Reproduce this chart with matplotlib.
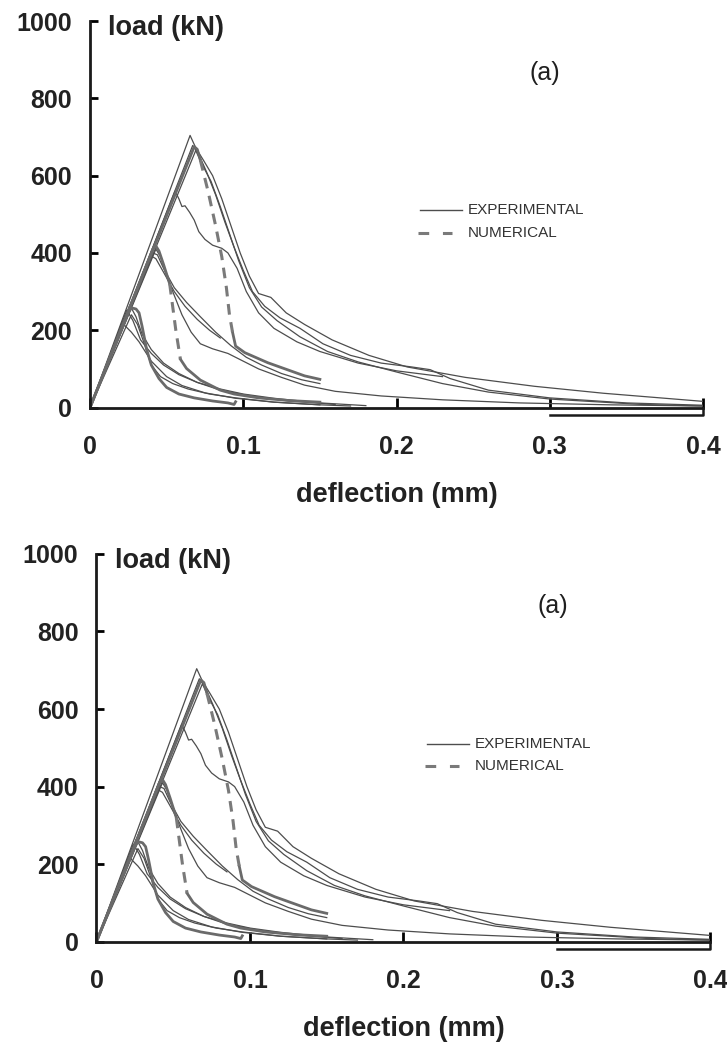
import matplotlib.pyplot as plt

plt.rcParams['font.family'] = ['Liberation Sans', 'DejaVu Sans']

# experimental curves: deflection (mm) / load (kN)
exp_h1_d = [0, 0.0653, 0.069, 0.074, 0.080, 0.086, 0.092, 0.098, 0.104, 0.110, 0.118, 0.128,
            0.140, 0.158, 0.182, 0.207, 0.245, 0.290, 0.335, 0.400]
exp_h1_p = [0, 704, 672, 640, 600, 540, 470, 400, 340, 295, 285, 245, 215, 175, 135, 105, 78,
            55, 37, 16]
exp_h2_d = [0, 0.067, 0.071, 0.076, 0.082, 0.088, 0.094, 0.100, 0.106, 0.114, 0.124, 0.137,
            0.152, 0.170, 0.190, 0.210, 0.222, 0.235, 0.260, 0.300, 0.350, 0.400]
exp_h2_p = [0, 678, 655, 610, 550, 480, 415, 355, 300, 262, 232, 205, 165, 135, 115, 105, 98,
            75, 45, 25, 12, 6]
exp_h3_d = [0, 0.069, 0.073, 0.079, 0.085, 0.091, 0.097, 0.104, 0.112, 0.122, 0.137, 0.155,
            0.175, 0.200, 0.230, 0.260, 0.300, 0.360, 0.400]
exp_h3_p = [0, 665, 630, 585, 520, 450, 380, 310, 260, 225, 183, 145, 118, 92, 62, 40, 22, 8, 4]
exp_h4_d = [0, 0.0555, 0.058, 0.060, 0.062, 0.065, 0.068, 0.071, 0.075, 0.080, 0.086, 0.090,
            0.096, 0.102, 0.110, 0.120, 0.135, 0.150, 0.175, 0.200, 0.230]
exp_h4_p = [0, 560, 540, 520, 522, 505, 485, 455, 435, 420, 412, 400, 360, 300, 245, 205, 170,
            145, 115, 95, 80]
exp_m1_d = [0, 0.040, 0.043, 0.048, 0.055, 0.062, 0.070, 0.078, 0.085]
exp_m1_p = [0, 392, 385, 350, 300, 262, 228, 200, 180]
exp_m2_d = [0, 0.043, 0.046, 0.050, 0.055, 0.060, 0.066, 0.072, 0.080, 0.090, 0.100, 0.110,
            0.125, 0.140, 0.160, 0.190, 0.230, 0.280, 0.340, 0.400]
exp_m2_p = [0, 410, 390, 340, 290, 240, 195, 165, 152, 140, 120, 100, 78, 58, 42, 30, 20, 12, 7, 4]
exp_m3_d = [0, 0.041, 0.044, 0.048, 0.055, 0.063, 0.072, 0.082, 0.092, 0.102, 0.112, 0.125,
            0.138, 0.150]
exp_m3_p = [0, 400, 395, 360, 310, 272, 235, 195, 160, 130, 110, 88, 72, 62]
exp_l1_d = [0, 0.022, 0.027, 0.032, 0.040, 0.050, 0.060, 0.075, 0.095, 0.120, 0.150, 0.170]
exp_l1_p = [0, 215, 195, 170, 120, 80, 57, 38, 24, 14, 7, 4]
exp_l2_d = [0, 0.024, 0.028, 0.033, 0.040, 0.048, 0.058, 0.070, 0.085, 0.100, 0.120, 0.150, 0.180]
exp_l2_p = [0, 252, 225, 175, 140, 110, 85, 65, 48, 35, 24, 12, 5]
exp_l3_d = [0, 0.026, 0.030, 0.034, 0.040, 0.048, 0.058, 0.070, 0.085, 0.105, 0.130, 0.160]
exp_l3_p = [0, 265, 235, 190, 150, 115, 88, 65, 45, 30, 17, 8]
exp_l4_d = [0, 0.027, 0.031, 0.035, 0.040, 0.046, 0.054, 0.064, 0.078, 0.095, 0.120, 0.150]
exp_l4_p = [0, 240, 215, 170, 110, 80, 62, 48, 35, 25, 14, 7]

# numerical curves: solid parts and the dashed softening drop
num_h_rise_d = [0, 0.068, 0.070, 0.072]
num_h_rise_p = [0, 675, 668, 640]
num_h_drop_d = [0.072, 0.077, 0.082, 0.086, 0.089, 0.091, 0.093]
num_h_drop_p = [640, 560, 470, 390, 310, 240, 195]
num_h_tail_d = [0.093, 0.095, 0.101, 0.116, 0.128, 0.140, 0.150]
num_h_tail_p = [195, 159, 142, 116, 99, 82, 73]
num_m_rise_d = [0, 0.041, 0.043, 0.045, 0.048, 0.052]
num_m_rise_p = [0, 410, 418, 405, 370, 320]
num_m_drop_d = [0.052, 0.054, 0.056, 0.058, 0.059]
num_m_drop_p = [320, 260, 200, 150, 125]
num_m_tail_d = [0.059, 0.063, 0.072, 0.085, 0.094, 0.110, 0.130, 0.150]
num_m_tail_p = [125, 101, 71, 45, 35, 25, 18, 14]
num_l_d = [0, 0.025, 0.027, 0.030, 0.032, 0.034, 0.037, 0.040, 0.045, 0.050, 0.058, 0.068,
           0.080, 0.090, 0.094, 0.095]
num_l_p = [0, 245, 258, 255, 245, 210, 150, 110, 75, 52, 35, 25, 17, 12, 8, 15]

exp_curves = [(exp_h1_d, exp_h1_p), (exp_h2_d, exp_h2_p), (exp_h3_d, exp_h3_p),
              (exp_h4_d, exp_h4_p), (exp_m1_d, exp_m1_p), (exp_m2_d, exp_m2_p),
              (exp_m3_d, exp_m3_p), (exp_l1_d, exp_l1_p), (exp_l2_d, exp_l2_p),
              (exp_l3_d, exp_l3_p), (exp_l4_d, exp_l4_p)]
num_solid = [(num_h_rise_d, num_h_rise_p), (num_h_tail_d, num_h_tail_p),
             (num_m_rise_d, num_m_rise_p), (num_m_tail_d, num_m_tail_p), (num_l_d, num_l_p)]
num_dashed = [(num_h_drop_d, num_h_drop_p), (num_m_drop_d, num_m_drop_p)]

x_ticks = [0, 0.1, 0.2, 0.3, 0.4]
x_labels = ['0', '0.1', '0.2', '0.3', '0.4']
y_ticks = [0, 200, 400, 600, 800, 1000]


def draw_panel(ax):
    for d, p in exp_curves:
        ax.plot(d, p, color='#4d4d4d', lw=0.9)
    for d, p in num_solid:
        ax.plot(d, p, color='#6a6a6a', lw=2.0)
    for d, p in num_dashed:
        ax.plot(d, p, color='#7a7a7a', lw=2.2, dashes=(3.5, 2.5))

    ax.set_xlim(0, 0.4)
    ax.set_ylim(0, 1000)
    for s in ['top', 'right']:
        ax.spines[s].set_visible(False)
    for s in ['left', 'bottom']:
        ax.spines[s].set_linewidth(2)
        ax.spines[s].set_color('#1a1a1a')

    ax.set_xticks(x_ticks)
    ax.set_xticklabels(x_labels)
    ax.set_yticks(y_ticks)
    ax.tick_params(axis='x', direction='in', length=7, width=2, pad=20, labelsize=18)
    ax.tick_params(axis='y', direction='in', length=6, width=2, pad=13, labelsize=18)
    for lab in ax.get_xticklabels() + ax.get_yticklabels():
        lab.set_fontweight('bold')
        lab.set_color('#222222')

    # small box closing the x axis at its right end
    ax.plot([0.3, 0.4, 0.4], [-20, -20, 0], color='#1a1a1a', lw=1.8, clip_on=False)

    ax.set_xlabel('deflection (mm)', fontsize=19.5, fontweight='bold', color='#222222',
                  labelpad=16)
    ax.text(0.012, 982, 'load (kN)', fontsize=19.5, fontweight='bold', color='#222222',
            va='center', ha='left')
    ax.text(0.297, 866, '(a)', fontsize=18, color='#1f1f1f', va='center', ha='center')

    # legend
    ax.plot([0.2153, 0.2427], [511, 511], color='#4d4d4d', lw=1.0)
    ax.plot([0.2140, 0.2360], [452, 452], color='#7a7a7a', lw=2.2, dashes=(3.5, 4.5))
    ax.text(0.2466, 511, 'EXPERIMENTAL', fontsize=11, color='#333333', va='center')
    ax.text(0.2466, 452, 'NUMERICAL', fontsize=11, color='#333333', va='center')


fig = plt.figure(figsize=(7.27, 10.45), dpi=100)
ax_top = fig.add_axes([0.1238, 0.6100, 0.8432, 0.3699])
ax_bot = fig.add_axes([0.1327, 0.0989, 0.8446, 0.3710])
draw_panel(ax_top)
draw_panel(ax_bot)

fig.savefig('out.png', dpi=100)
